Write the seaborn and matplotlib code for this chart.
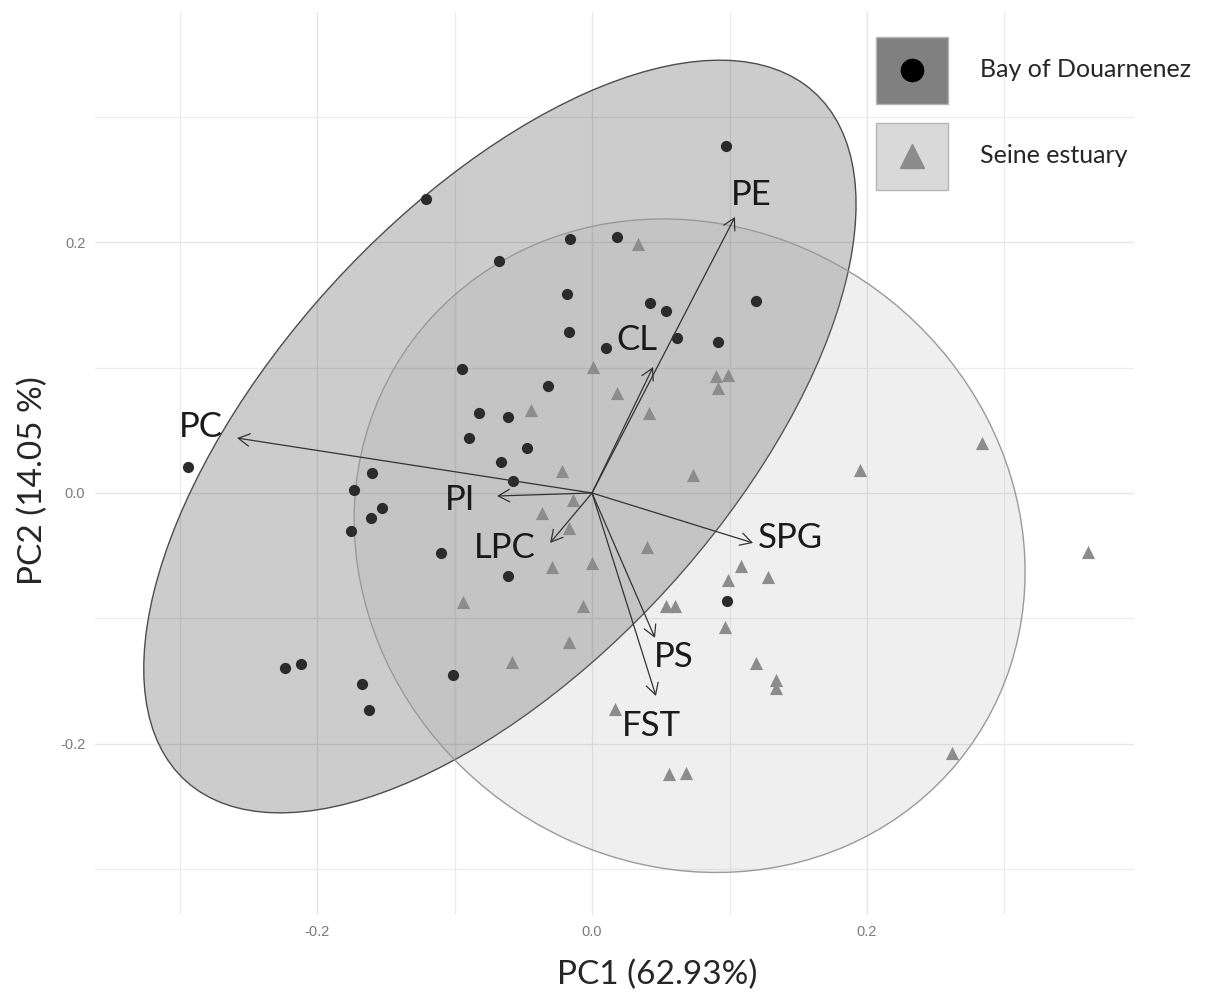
import matplotlib
matplotlib.use("Agg")
import matplotlib.pyplot as plt
from matplotlib.patches import Ellipse, Rectangle
from matplotlib.lines import Line2D
from matplotlib.legend_handler import HandlerBase
from matplotlib.ticker import FormatStrFormatter
import pandas as pd
import seaborn as sns

# ---- data ----
groups = ["Bay of Douarnenez", "Seine estuary"]

bay_pc1 = [0.0975, -0.1207, -0.0676, -0.0160, 0.0182, -0.0182, 0.0422, 0.0538, 0.1193,
           -0.0167, 0.0102, 0.0618, 0.0916, -0.0945, -0.0320, -0.0822, -0.0611, -0.0895,
           -0.0473, -0.0662, -0.0575, -0.2938, -0.1600, -0.1731, -0.1527, -0.1607, -0.1753,
           -0.1098, -0.0611, 0.0982, -0.1011, -0.2233, -0.2116, -0.1673, -0.1622]
bay_pc2 = [0.2765, 0.2343, 0.1849, 0.2024, 0.2040, 0.1586, 0.1514, 0.1450, 0.1530,
           0.1283, 0.1155, 0.1235, 0.1203, 0.0988, 0.0853, 0.0637, 0.0606, 0.0438,
           0.0359, 0.0247, 0.0096, 0.0207, 0.0159, 0.0024, -0.0120, -0.0199, -0.0303,
           -0.0478, -0.0661, -0.0861, -0.1450, -0.1394, -0.1363, -0.1522, -0.1729]

seine_pc1 = [0.0335, 0.0007, 0.0182, -0.0444, 0.0415, 0.0902, 0.0989, 0.0916, 0.0735,
             0.1949, 0.2836, 0.3607, -0.0218, -0.0138, -0.0364, -0.0167, 0.0400, -0.0291,
             0.0000, -0.0065, -0.0938, -0.0167, -0.0582, 0.1084, 0.0989, 0.1280, 0.0538,
             0.0604, 0.0967, 0.1193, 0.1338, 0.1338, 0.0167, 0.2618, 0.0560, 0.0684]
seine_pc2 = [0.1984, 0.1004, 0.0797, 0.0661, 0.0637, 0.0932, 0.0940, 0.0837, 0.0143,
             0.0183, 0.0398, -0.0470, 0.0175, -0.0056, -0.0159, -0.0279, -0.0430, -0.0590,
             -0.0558, -0.0900, -0.0869, -0.1187, -0.1347, -0.0582, -0.0693, -0.0669, -0.0900,
             -0.0900, -0.1068, -0.1355, -0.1490, -0.1554, -0.1721, -0.2072, -0.2239, -0.2231]

# variable loadings (arrow tips) and where their names sit
var_names = ["PE", "CL", "PC", "PI", "LPC", "SPG", "PS", "FST"]
var_pc1 = [0.104, 0.0444, -0.2582, -0.0691, -0.0305, 0.1171, 0.0458, 0.0465]
var_pc2 = [0.220, 0.1004, 0.0438, -0.0024, -0.0398, -0.0398, -0.1155, -0.1618]
label_pc1 = [0.1156, 0.0327, -0.2844, -0.0960, -0.0633, 0.1440, 0.0596, 0.0429]
label_pc2 = [0.2375, 0.1219, 0.0526, -0.0056, -0.0438, -0.0359, -0.1307, -0.1857]

# confidence ellipses per group: centre, full axes, rotation (deg)
ell_center = [(-0.067, 0.045), (0.071, -0.042)]
ell_width = [0.715, 0.530]
ell_height = [0.342, 0.478]
ell_angle = [51.7, 115.4]

df = pd.DataFrame({
    "PC1": bay_pc1 + seine_pc1,
    "PC2": bay_pc2 + seine_pc2,
    "site": [groups[0]] * len(bay_pc1) + [groups[1]] * len(seine_pc1),
})

sns.set_theme(style="whitegrid")
plt.rcParams["font.family"] = ["Lato", "DejaVu Sans"]
plt.rcParams["axes.unicode_minus"] = False

fig = plt.figure(figsize=(12.18, 9.98), dpi=100)
ax = fig.add_axes([95 / 1218, 83 / 998, 1039 / 1218, 903 / 998])

# ellipses (Bay drawn first, Seine on top)
ell_face = [(0, 0, 0, 0.2), (0.6, 0.6, 0.6, 0.15)]
ell_edge = ["#4d4d4d", "#9a9a9a"]
for i in range(2):
    ax.add_patch(Ellipse(ell_center[i], ell_width[i], ell_height[i], angle=ell_angle[i],
                         facecolor=ell_face[i], edgecolor=ell_edge[i], lw=1.0, zorder=1))

sns.scatterplot(data=df[df.site == groups[0]], x="PC1", y="PC2", color="#2b2b2b",
                marker="o", s=65, linewidth=0, ax=ax, zorder=3)
sns.scatterplot(data=df[df.site == groups[1]], x="PC1", y="PC2", color="#8c8c8c",
                marker="^", s=90, linewidth=0, ax=ax, zorder=3)

for name, x, y, lx, ly in zip(var_names, var_pc1, var_pc2, label_pc1, label_pc2):
    ax.annotate("", xy=(x, y), xytext=(0, 0),
                arrowprops=dict(arrowstyle="->,head_length=0.45,head_width=0.25",
                                color="#333333", lw=0.9, mutation_scale=18,
                                shrinkA=0, shrinkB=0), zorder=4)
    ax.text(lx, ly, name, ha="center", va="center", fontsize=25, color="#1a1a1a", zorder=5)

ax.set_xlim(-0.3615, 0.3942)
ax.set_ylim(-0.3363, 0.3833)
ax.set_xticks([-0.2, 0.0, 0.2])
ax.set_yticks([-0.2, 0.0, 0.2])
ax.set_xticks([-0.3, -0.1, 0.1, 0.3], minor=True)
ax.set_yticks([-0.3, -0.1, 0.1, 0.3], minor=True)
ax.xaxis.set_major_formatter(FormatStrFormatter("%.1f"))
ax.yaxis.set_major_formatter(FormatStrFormatter("%.1f"))
ax.grid(which="major", color="#e6e6e6", lw=1.0)
ax.grid(which="minor", color="#ececec", lw=0.9)
ax.set_axisbelow(True)
ax.tick_params(which="both", length=0, pad=7, labelsize=10.5, labelcolor="#7a7a7a")
for lab in ax.get_xticklabels() + ax.get_yticklabels():
    lab.set_family("Liberation Sans")
for s in ax.spines.values():
    s.set_visible(False)

ax.set_xlabel("PC1 (62.93%)", fontsize=24, color="#262626")
ax.set_ylabel("PC2 (14.05 %)", fontsize=24, color="#262626")
ax.xaxis.set_label_coords(0.541, -0.050)
ax.yaxis.set_label_coords(-0.045, 0.4806)


# legend key = filled square with the group's marker in the middle
class Key:
    def __init__(self, face, marker, mcolor, msize):
        self.face, self.marker, self.mcolor, self.msize = face, marker, mcolor, msize


class KeyHandler(HandlerBase):
    def create_artists(self, legend, h, xdescent, ydescent, width, height, fontsize, trans):
        rect = Rectangle((-xdescent, -ydescent), width, height, facecolor=h.face,
                         edgecolor="#b5b5b5", lw=1.0, transform=trans)
        mk = Line2D([width / 2 - xdescent], [height / 2 - ydescent], marker=h.marker,
                    color=h.mcolor, ls="none", markersize=h.msize, transform=trans)
        return [rect, mk]


handles = [Key("#808080", "o", "black", 16), Key("#d9d9d9", "^", "#8c8c8c", 17)]
fig.legend(handles, groups, handler_map={Key: KeyHandler()},
           loc="upper left", bbox_to_anchor=(876 / 1218, 1 - 37 / 998),
           frameon=False, borderpad=0, borderaxespad=0, fontsize=18,
           handlelength=72 / 25, handleheight=3.745, handletextpad=32 / 25,
           labelspacing=19 / 25, labelcolor="#262626")

fig.savefig("out.png", dpi=100)
